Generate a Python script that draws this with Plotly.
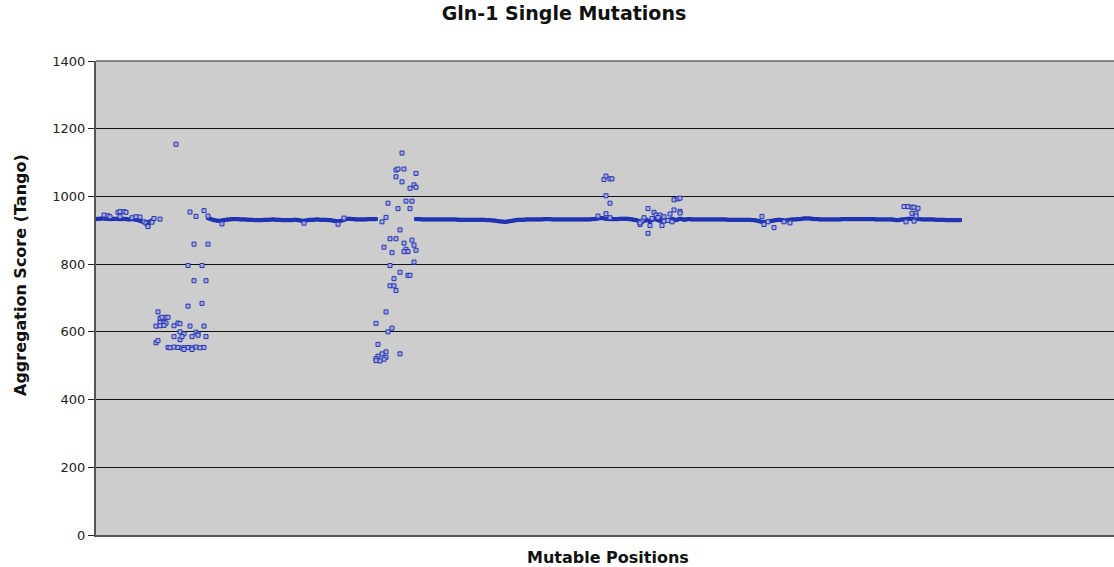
import plotly.graph_objects as go

# ---- Data (aggregation score per mutable position) ----
# Baseline runs of scores (one per position), with their first position
run1_start = 0
run1_scores = [933, 934, 934, 935, 935, 934, 934, 933, 933, 934,
               934, 933, 933, 933, 934, 933, 932, 932, 933, 932,
               931, 930, 928, 926, 924, 923, 924, 926, 929, 932]

run2_start = 56
run2_scores = [936, 934, 932, 930, 929, 928, 928, 929, 930, 931,
               932, 932, 933, 933, 933, 933, 932, 932, 932, 932,
               931, 931, 931, 930, 930, 930, 930, 930, 931, 931,
               931, 931, 932, 932, 931, 931, 931, 930, 930, 930,
               930, 930, 930, 931, 931, 930, 929, 928, 928, 929,
               930, 931, 931, 931, 932, 932, 931, 931, 931, 931,
               930, 930, 929, 928, 927, 926, 927, 929, 931, 933,
               934, 934, 933, 933, 932, 932, 932, 932, 932, 932,
               933, 933, 933, 933, 933]

run3_start = 160
run3_scores = [933, 933, 933, 932, 932, 932, 932, 932, 932, 932,
               932, 932, 932, 932, 932, 932, 932, 932, 932, 932,
               932, 931, 931, 931, 931, 931, 931, 931, 931, 931,
               931, 931, 931, 931, 931, 930, 930, 930, 929, 929,
               928, 927, 926, 926, 925, 925, 926, 927, 928, 929,
               930, 931, 931, 931, 931, 932, 932, 932, 932, 932,
               932, 932, 932, 932, 933, 933, 933, 933, 932, 932,
               932, 932, 932, 932, 932, 932, 932, 932, 932, 932,
               932, 932, 932, 932, 932, 932, 932, 932, 933, 933,
               934, 935, 936, 936, 935, 934, 934, 933, 933, 933,
               933, 933, 934, 934, 934, 934, 934, 933, 932, 931,
               930, 928, 926, 925, 928, 931, 929, 927, 930, 933,
               932, 930, 928, 931, 933, 930, 928, 931, 934, 932,
               930, 932, 934, 933, 931, 932, 933, 933, 932, 932,
               932, 932, 932, 932, 932, 932, 932, 932, 932, 932,
               932, 932, 932, 932, 932, 932, 931, 931, 931, 931,
               931, 931, 931, 931, 931, 931, 931, 931, 930, 930,
               929, 928, 926, 925, 924, 925, 926, 927, 928, 929,
               930, 931, 931, 930, 929, 929, 930, 931, 932, 932,
               932, 933, 933, 934, 935, 935, 935, 935, 934, 933,
               933, 933, 932, 932, 932, 932, 932, 932, 932, 932,
               932, 932, 932, 933, 933, 933, 933, 933, 933, 933,
               933, 933, 933, 933, 933, 933, 933, 933, 933, 933,
               932, 932, 932, 932, 932, 932, 932, 932, 932, 931,
               930, 930, 931, 932, 932, 933, 934, 934, 934, 933,
               933, 933, 933, 932, 932, 932, 932, 932, 932, 932,
               931, 931, 931, 931, 931, 930, 930, 930, 930, 930,
               930, 930, 930]

# Off-baseline mutations, by cluster (position, score)
clusterA_pos = [4, 6, 7, 11, 12, 14, 15, 12, 18, 20, 22, 24, 25, 26, 26, 28, 29, 32,
                30, 31, 31, 32, 33, 35, 36, 32, 34, 35, 30, 32, 34, 39, 41, 42, 47, 54,
                42, 44, 50, 51, 39, 42, 43, 48, 55, 51,
                36, 37, 39, 41, 43, 44, 46, 48, 50, 52, 54, 44, 48,
                40, 47, 54, 50, 49, 56, 46, 53, 49, 55, 46, 53]
clusterA_score = [945, 943, 940, 953, 955, 955, 953, 940, 937, 940, 939, 925, 921, 914, 911, 924, 935, 933,
                  568, 574, 659, 640, 643, 643, 643, 628, 628, 626, 617, 618, 619, 618, 626, 624, 617, 617,
                  600, 594, 599, 594, 586, 577, 586, 586, 586, 590,
                  554, 553, 555, 554, 552, 553, 554, 553, 555, 553, 554, 548, 548,
                  1154, 954, 958, 941, 859, 859, 796, 796, 751, 751, 676, 684]

clusterB_pos = [56, 63, 104, 121, 124]
clusterB_score = [942, 919, 921, 918, 936]

clusterC_pos = [153, 150, 151, 154, 160, 150, 153, 159, 157, 160, 146, 155, 158, 151, 157,
                145, 143, 152, 147, 150, 158, 144, 154, 159, 155, 156, 154, 160, 148, 159,
                147, 152, 156, 157, 149, 147, 149, 150, 145, 140, 148, 146, 141, 145, 143,
                141, 140, 145, 144, 142, 140, 152]
clusterC_score = [1128, 1078, 1081, 1081, 1068, 1058, 1043, 1034, 1024, 1027, 980, 986, 986, 964, 964,
                  938, 925, 901, 875, 875, 871, 850, 862, 856, 844, 837, 837, 841, 834, 806,
                  796, 776, 767, 767, 757, 736, 736, 722, 659, 625, 611, 600, 563, 541, 535,
                  528, 521, 525, 519, 514, 515, 535]

clusterD_pos = [254, 255, 257, 258, 255, 257, 255, 251, 257,
                289, 291, 292, 289, 292, 292, 276, 279, 280, 274, 273, 272, 272, 277, 276,
                283, 284, 286, 282, 284, 287, 278, 281, 288]
clusterD_score = [1050, 1060, 1052, 1052, 1002, 980, 949, 942, 937,
                  990, 993, 995, 960, 956, 951, 964, 953, 945, 937, 927, 917, 922, 914, 891,
                  914, 927, 929, 945, 940, 948, 935, 938, 925]

clusterE_pos = [333, 334, 339, 336, 344, 347]
clusterE_score = [941, 917, 908, 925, 925, 922]

clusterF_pos = [404, 406, 408, 409, 411, 408, 410, 410, 405, 409]
clusterF_score = [970, 970, 968, 968, 965, 950, 950, 942, 925, 927]

y_ticks = [0, 200, 400, 600, 800, 1000, 1200, 1400]

# ---- Assemble ----
bx, by = [], []
for start, vals in [(run1_start, run1_scores), (run2_start, run2_scores), (run3_start, run3_scores)]:
    bx += list(range(start, start + len(vals)))
    by += vals
ox, oy = [], []
for p, s in [(clusterA_pos, clusterA_score), (clusterB_pos, clusterB_score),
             (clusterC_pos, clusterC_score), (clusterD_pos, clusterD_score),
             (clusterE_pos, clusterE_score), (clusterF_pos, clusterF_score)]:
    ox += p
    oy += s

fig = go.Figure()
fig.add_trace(go.Scatter(
    x=bx, y=by, mode="markers",
    marker=dict(symbol="square", size=3, color="#2a3cba",
                line=dict(color="#1a2eb0", width=1)),
    showlegend=False, hoverinfo="x+y"))
fig.add_trace(go.Scatter(
    x=ox, y=oy, mode="markers",
    marker=dict(symbol="square", size=4, color="#a6addf",
                line=dict(color="#2636b0", width=1)),
    showlegend=False, hoverinfo="x+y"))

L, R, T, B = 96, 0, 61, 32
W, H = 1114, 567
pw, ph = W - L - R, H - T - B

fig.update_layout(
    width=W, height=H,
    margin=dict(l=L, r=R, t=T, b=B, pad=0),
    paper_bgcolor="white", plot_bgcolor="#cdcdcd",
    font=dict(family="DejaVu Sans", color="black"),
    title=dict(text="<b>Gln-1 Single Mutations</b>", x=564 / W, y=1 - 13 / H,
               xanchor="center", yanchor="middle", xref="container", yref="container",
               font=dict(size=19, family="DejaVu Sans", color="#111")),
    xaxis=dict(range=[0, 509], showgrid=False, zeroline=False, showticklabels=False,
               ticks="", showline=True, linecolor="#555", linewidth=2, mirror=False),
    yaxis=dict(range=[0, 1400], tickvals=y_ticks, ticks="outside", ticklen=6,
               tickcolor="#222", tickwidth=1, showgrid=True, gridcolor="#111", gridwidth=1,
               zeroline=False, showline=True, linecolor="#555", linewidth=2,
               tickfont=dict(size=13, family="DejaVu Sans", color="#222")),
    annotations=[
        dict(text="<b>Aggregation Score (Tango)</b>", textangle=-90,
             x=(20 - L) / pw, y=(H - B - 275) / ph, xref="paper", yref="paper",
             xanchor="center", yanchor="middle", showarrow=False,
             font=dict(size=16, family="DejaVu Sans", color="#111")),
        dict(text="<b>Mutable Positions</b>",
             x=(608 - L) / pw, y=(H - B - 557) / ph, xref="paper", yref="paper",
             xanchor="center", yanchor="middle", showarrow=False,
             font=dict(size=16, family="DejaVu Sans", color="#111")),
    ],
)
# Top border line (1400 gridline appears as frame)
fig.add_shape(type="line", xref="paper", yref="paper", x0=0, x1=1, y0=1, y1=1,
              line=dict(color="#666", width=1.5))

fig.write_html("out.html", config={"displayModeBar": False},
               post_script="document.body.style.margin='0';")
